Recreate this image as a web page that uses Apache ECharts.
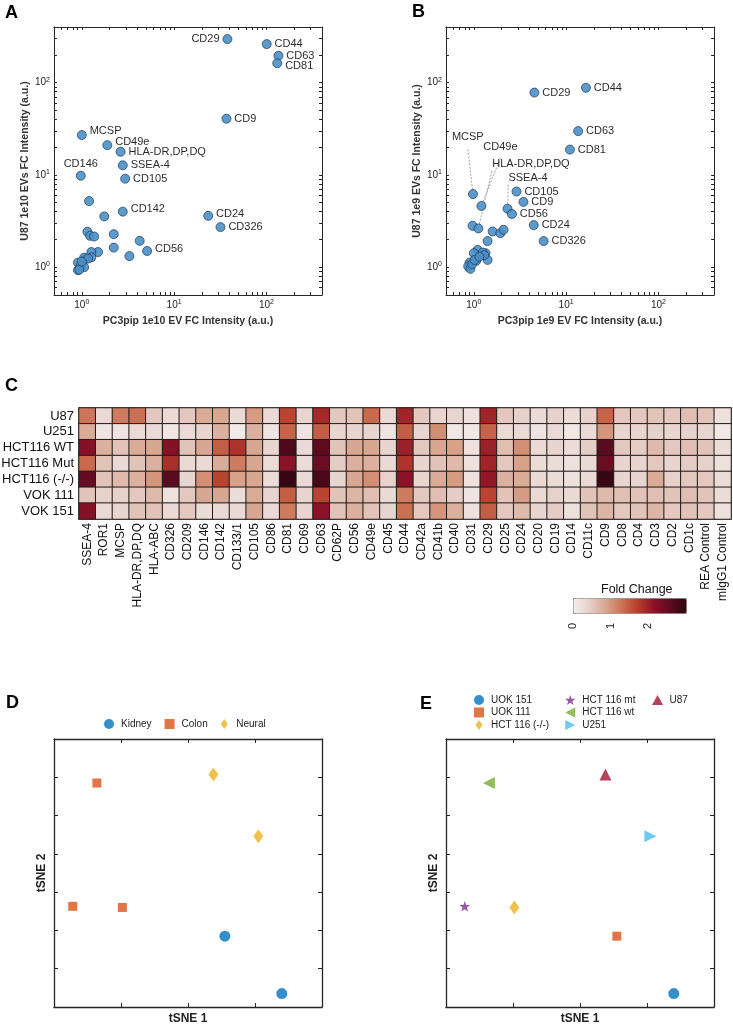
<!DOCTYPE html>
<html>
<head>
<meta charset="utf-8">
<script src="https://cdn.jsdelivr.net/npm/echarts@6.0.0/dist/echarts.min.js"></script>
<style>
html, body { margin: 0; padding: 0; background: #fff; }
#chart { width: 733px; height: 1026px; }
</style>
</head>
<body>
<div id="chart"></div>
<script>
const FONT = '"Liberation Sans", Arial, Helvetica, sans-serif'

// ---- A: PC3pip vs U87, 1e10 EVs ----
const aNames = ['CD29', 'CD44', 'CD63', 'CD81', 'CD9', 'MCSP', 'CD49e', 'HLA-DR,DP,DQ', 'SSEA-4', 'CD146',
  'CD105', '', 'CD142', '', 'CD24', 'CD326', '', '', '', '', '', '', 'CD56', '', '', '', '', '', '', '', '', '', '', '', '', '']
const aX = [37.8, 100.7, 135, 131, 36.9, 1.0, 1.89, 2.63, 2.78, 0.975,
  2.95, 1.2, 2.78, 1.75, 23.4, 31.8, 1.15, 1.23, 1.36, 2.22, 4.24, 2.22, 5.1, 3.28, 1.5, 1.27, 1.27, 1.1, 1.06, 0.91, 0.91, 0.97, 1.06, 0.94, 1.17, 1.0]
const aY = [296, 261, 195, 162, 40.6, 27, 21, 17.8, 12.7, 9.8,
  9.1, 5.2, 4.0, 3.55, 3.6, 2.72, 2.42, 2.19, 2.15, 2.28, 1.93, 1.63, 1.5, 1.32, 1.46, 1.46, 1.28, 1.24, 1.27, 1.12, 0.93, 1.03, 1.0, 0.94, 1.24, 1.15]

// ---- B: PC3pip vs U87, 1e9 EVs ----
const bNames = ['CD29', 'CD44', 'CD63', 'CD81', 'MCSP', 'CD105', 'CD9', 'CD49e', 'SSEA-4', 'CD56',
  'CD24', 'CD326', '', 'HLA-DR,DP,DQ', '', '', '', '', '', '', '', '', '', '', '', '', '', '', '', '', '', '']
const bX = [4.53, 16.4, 13.5, 11, 0.98, 2.9, 3.45, 1.21, 2.32, 2.59,
  4.46, 5.71, 0.97, 1.12, 1.6, 1.94, 2.1, 1.41, 1.41, 1.34, 1.21, 1.1, 1.0, 1.06, 0.9, 0.87, 0.92, 0.96, 1.02, 1.25, 1.3, 1.15]
const bY = [77.9, 88, 29.8, 18.8, 6.2, 6.6, 5.1, 4.6, 4.3, 3.77,
  2.86, 1.92, 2.81, 2.63, 2.44, 2.34, 2.54, 1.92, 1.2, 1.42, 1.38, 1.54, 1.42, 1.17, 1.12, 1.02, 0.96, 1.08, 1.2, 1.44, 1.35, 1.3]

const logTicks = [0.5, 0.6, 0.7, 0.8, 0.9, 1, 2, 3, 4, 5, 6, 7, 8, 9, 10, 20, 30, 40, 50, 60, 70, 80, 90, 100, 200, 300, 400]
const logLabels = [1, 10, 100]

// ---- C: fold change heatmap ----
const markers = ['SSEA-4', 'ROR1', 'MCSP', 'HLA-DR,DP,DQ', 'HLA-ABC', 'CD326', 'CD209', 'CD146', 'CD142', 'CD133/1',
  'CD105', 'CD86', 'CD81', 'CD69', 'CD63', 'CD62P', 'CD56', 'CD49e', 'CD45', 'CD44', 'CD42a', 'CD41b', 'CD40',
  'CD31', 'CD29', 'CD25', 'CD24', 'CD20', 'CD19', 'CD14', 'CD11c', 'CD9', 'CD8', 'CD4', 'CD3', 'CD2', 'CD1c',
  'REA Control', 'mIgG1 Control']
const cellLines = ['U87', 'U251', 'HCT116 WT', 'HCT116 Mut', 'HCT116 (-/-)', 'VOK 111', 'VOK 151']
const foldU87 = [1.25, 0.3, 1.2, 1.3, 0.5, 0.3, 0.5, 0.8, 0.85, 0.3, 0.95, 0.3, 1.65, 0.35, 1.9, 0.5, 0.55, 1.35,
  0.3, 1.95, 0.5, 0.35, 0.35, 0.2, 1.95, 0.5, 0.4, 0.3, 0.4, 0.25, 0.4, 1.4, 0.5, 0.5, 0.55, 0.5, 0.6, 0.55, 0.2]
const foldU251 = [0.8, 0.15, 0.15, 0.3, 0.3, 0.12, 0.3, 0.35, 0.75, 0.08, 0.75, 0.15, 1.4, 0.15, 1.45, 0.35, 0.35, 0.35,
  0.15, 1.45, 0.35, 1.05, 0.1, 0.1, 1.4, 0.3, 0.3, 0.15, 0.3, 0.1, 0.3, 1.0, 0.35, 0.35, 0.4, 0.35, 0.4, 0.35, 0.1]
const foldWT = [2.2, 0.75, 0.55, 0.8, 0.85, 2.2, 0.55, 0.85, 1.45, 1.8, 0.85, 0.35, 2.7, 0.3, 2.55, 0.55, 0.85, 0.85,
  0.35, 2.0, 0.5, 0.85, 0.9, 0.2, 2.0, 0.6, 1.05, 0.3, 0.35, 0.25, 0.45, 2.6, 0.5, 0.45, 0.65, 0.5, 0.6, 0.55, 0.25]
const foldMut = [1.35, 0.55, 0.3, 0.55, 0.75, 1.85, 0.3, 0.3, 0.8, 1.2, 0.85, 0.25, 2.15, 0.25, 2.45, 0.45, 0.75, 0.75,
  0.3, 1.8, 0.35, 0.55, 0.65, 0.2, 1.95, 0.5, 0.9, 0.25, 0.25, 0.2, 0.3, 2.45, 0.35, 0.35, 0.5, 0.35, 0.45, 0.4, 0.2]
const foldKO = [2.5, 0.55, 0.65, 0.75, 1.0, 2.6, 0.35, 1.05, 1.65, 0.9, 0.85, 0.25, 2.9, 0.3, 2.75, 0.35, 0.85, 1.05,
  0.4, 2.15, 0.35, 0.8, 0.95, 0.2, 2.1, 0.75, 0.8, 0.3, 0.25, 0.2, 0.3, 2.9, 0.35, 0.35, 0.8, 0.4, 0.5, 0.5, 0.25]
const foldVOK111 = [0.55, 0.4, 0.4, 0.5, 0.65, 0.2, 0.5, 0.85, 0.85, 0.25, 0.8, 0.35, 1.45, 0.35, 1.65, 0.55, 0.7, 0.6,
  0.3, 1.2, 0.5, 0.6, 0.45, 0.15, 1.65, 0.55, 0.95, 0.3, 0.4, 0.3, 0.55, 0.65, 0.6, 0.55, 0.6, 0.55, 0.6, 0.55, 0.25]
const foldVOK151 = [2.2, 0.3, 0.35, 0.55, 0.55, 0.3, 0.5, 0.25, 0.3, 0.3, 0.85, 0.3, 1.2, 0.35, 2.15, 0.55, 0.75, 0.55,
  0.35, 1.3, 0.5, 1.0, 0.75, 0.2, 1.45, 0.5, 0.65, 0.35, 0.45, 0.2, 0.55, 0.7, 0.5, 0.55, 0.7, 0.5, 0.55, 0.5, 0.2]

// ---- D / E: tSNE embedding ----
const tsneLines = ['UOK 151', 'UOK 111', 'HCT 116 (-/-)', 'HCT 116 mt', 'HCT 116 wt', 'U251', 'U87']
const tsneX = [3.40, 2.55, 1.02, 0.28, 0.64, 3.05, 2.38]
const tsneY = [0.35, 1.85, 2.60, 2.63, 5.85, 4.46, 6.07]
const tsneTissue = ['Kidney', 'Kidney', 'Colon', 'Colon', 'Colon', 'Neural', 'Neural']
const tissues = ['Kidney', 'Colon', 'Neural']

// styles
const HEAT_COLORS = ['#f4efef', '#e6cfc8', '#d8a690', '#cb7254', '#b73c2c', '#8c1228', '#5c0b20', '#2e060f']
const STAR = 'path://M0,-10L2.35,-3.24L9.51,-3.09L3.8,1.24L5.88,8.09L0,4L-5.88,8.09L-3.8,1.24L-9.51,-3.09L-2.35,-3.24Z'
const SQUARE_ICON = 'path://M0,0L10,0L10,10L0,10Z'
const DIAMOND_ICON = 'path://M5,0L10,7L5,14L0,7Z'
const LEFT_ICON = 'path://M0,5L10,0L10,10Z'
const RIGHT_ICON = 'path://M0,0L10,5L0,10Z'
const UP_ICON = 'path://M5,0L10,9L0,9Z'
const TISSUE_STYLE = {
  Kidney: { symbol: 'circle', size: 11, color: '#0072BD', icon: 'circle' },
  Colon: { symbol: 'rect', size: 9, color: '#D95319', icon: SQUARE_ICON },
  Neural: { symbol: 'diamond', size: [10, 14], color: '#EDB120', icon: DIAMOND_ICON }
}
const LINE_STYLE = {
  'UOK 151': { symbol: 'circle', size: 11, rotate: 0, color: '#0072BD', icon: 'circle' },
  'UOK 111': { symbol: 'rect', size: 9, rotate: 0, color: '#D95319', icon: SQUARE_ICON },
  'HCT 116 (-/-)': { symbol: 'diamond', size: [10, 14], rotate: 0, color: '#EDB120', icon: DIAMOND_ICON },
  'HCT 116 mt': { symbol: STAR, size: 11, rotate: 0, color: '#7E2F8E', icon: STAR },
  'HCT 116 wt': { symbol: 'triangle', size: 12, rotate: 90, color: '#77AC30', icon: LEFT_ICON },
  'U251': { symbol: 'triangle', size: 12, rotate: -90, color: '#4DBEEE', icon: RIGHT_ICON },
  'U87': { symbol: 'triangle', size: 12, rotate: 0, color: '#A2142F', icon: UP_ICON }
}
// label placement: [position, dx, dy]
const PLACE_A = {
  'CD29': ['left', 0, 0],
  'CD146': ['top', 0, 2],
  'MCSP': ['right', 0, -4],
  'CD49e': ['right', 0, -3],
  'CD142': ['right', 0, -3],
  'CD24': ['right', 0, -2],
  'CD56': ['right', 0, -2],
  'CD81': ['right', 0, 3]
}
const PLACE_B = {}
const LEADER_B = {
  'MCSP': [-29, -57],
  'CD49e': [-6, -59],
  'HLA-DR,DP,DQ': [6, -64],
  'SSEA-4': [-7, -31]
}

function scatterData(names, xs, ys, place, leaders) {
  return names.map((n, i) => {
    const p = place[n] || ['right', 0, 0]
    const item = { name: n, value: [xs[i], ys[i]], label: { position: p[0], offset: [p[1], p[2]] } }
    if (leaders[n]) {
      item.label.offset = leaders[n]
      item.labelLine = { show: true }
    }
    return item
  })
}

function powLabel(v) {
  return '{b|10}{s|' + Math.round(Math.log10(v)) + '}'
}

const BOX = { color: '#262626', width: 1 }

function logAxis(grid, position, main, name) {
  return {
    type: 'log',
    logBase: 10,
    gridIndex: grid,
    position,
    min: 0.5,
    max: 400,
    axisLine: { show: true, onZero: false, lineStyle: BOX },
    axisTick: { show: true, inside: true, length: 3, customValues: logTicks, lineStyle: { color: '#262626' }},
    axisLabel: {
      show: main,
      customValues: logLabels,
      margin: 4,
      formatter: powLabel,
      rich: {
        b: { fontSize: 10, fontFamily: FONT, color: '#222', lineHeight: 13 },
        s: { fontSize: 7, fontFamily: FONT, color: '#222', lineHeight: 8, verticalAlign: 'top' }
      }
    },
    splitLine: { show: false },
    name: main ? name : '',
    nameLocation: 'middle',
    nameGap: position === 'bottom' ? 21 : 20,
    nameTextStyle: { fontFamily: FONT, fontSize: 10.5, fontWeight: 'bold', color: '#333' }
  }
}

function tsneAxis(grid, position, max, main, name) {
  return {
    type: 'value',
    gridIndex: grid,
    position,
    min: 0,
    max,
    interval: 1,
    axisLine: { show: true, onZero: false, lineStyle: { color: '#262626', width: 1.3 }},
    axisTick: { show: true, inside: true, length: 4, lineStyle: { color: '#262626' }},
    axisLabel: { show: false },
    splitLine: { show: false },
    name: main ? name : '',
    nameLocation: 'middle',
    nameGap: 6,
    nameTextStyle: { fontFamily: FONT, fontSize: 12, fontWeight: 'bold', color: '#222' }
  }
}

function legendItems(names, styles) {
  return names.map((n) => ({ name: n, icon: styles[n].icon }))
}

const heatData = []
const foldRows = [foldU87, foldU251, foldWT, foldMut, foldKO, foldVOK111, foldVOK151]
foldRows.forEach((row, r) => row.forEach((v, c) => heatData.push([c, r, v])))

const letterStyle = { fontFamily: FONT, fontSize: 18, fontWeight: 'bold', color: '#000' }
const legendText = { fontFamily: FONT, fontSize: 10, color: '#222' }

const chart = echarts.init(document.getElementById('chart'), null, { renderer: 'canvas' })

const option = {
  animation: false,
  backgroundColor: '#fff',
  textStyle: { fontFamily: FONT },
  title: [
    { text: 'A', left: 5, top: 4, padding: 0, textStyle: letterStyle },
    { text: 'B', left: 412, top: 3, padding: 0, textStyle: letterStyle },
    { text: 'C', left: 5, top: 377, padding: 0, textStyle: letterStyle },
    { text: 'D', left: 6, top: 694, padding: 0, textStyle: letterStyle },
    { text: 'E', left: 420, top: 695, padding: 0, textStyle: letterStyle },
    { text: 'Fold Change', left: 601, top: 583, padding: 0,
      textStyle: { fontFamily: FONT, fontSize: 12.5, fontWeight: 'normal', color: '#111' }}
  ],
  grid: [
    { left: 54, top: 27, width: 268, height: 268, outerBoundsMode: 'none' },
    { left: 446, top: 27, width: 268, height: 268, outerBoundsMode: 'none' },
    { left: 79, top: 408, width: 652, height: 111, outerBoundsMode: 'none',
      show: true, borderColor: '#8a8a8a', borderWidth: 2, backgroundColor: 'transparent' },
    { left: 573, top: 598, width: 113, height: 15, outerBoundsMode: 'none' },
    { left: 54, top: 739, width: 268, height: 268, outerBoundsMode: 'none' },
    { left: 446, top: 739, width: 268, height: 268, outerBoundsMode: 'none' }
  ],
  xAxis: [
    logAxis(0, 'bottom', true, 'PC3pip 1e10 EV FC Intensity (a.u.)'),
    logAxis(0, 'top', false, ''),
    logAxis(1, 'bottom', true, 'PC3pip 1e9 EV FC Intensity (a.u.)'),
    logAxis(1, 'top', false, ''),
    {
      type: 'category',
      gridIndex: 2,
      data: markers,
      axisLine: { show: false },
      axisTick: { show: false },
      axisLabel: { interval: 0, rotate: 90, margin: 4, fontSize: 12, fontFamily: FONT, color: '#111' },
      splitLine: { show: false }
    },
    {
      type: 'value',
      gridIndex: 3,
      min: 0,
      max: 3,
      interval: 1,
      axisLine: { show: false },
      axisTick: { show: false },
      axisLabel: { rotate: 90, margin: 10, fontSize: 11, fontFamily: FONT, color: '#222', showMaxLabel: false },
      splitLine: { show: false }
    },
    tsneAxis(4, 'bottom', 4, true, 'tSNE 1'),
    tsneAxis(4, 'top', 4, false, ''),
    tsneAxis(5, 'bottom', 4, true, 'tSNE 1'),
    tsneAxis(5, 'top', 4, false, '')
  ],
  yAxis: [
    logAxis(0, 'left', true, 'U87 1e10 EVs FC Intensity (a.u.)'),
    logAxis(0, 'right', false, ''),
    logAxis(1, 'left', true, 'U87 1e9 EVs FC Intensity (a.u.)'),
    logAxis(1, 'right', false, ''),
    {
      type: 'category',
      gridIndex: 2,
      data: cellLines,
      inverse: true,
      axisLine: { show: false },
      axisTick: { show: false },
      axisLabel: { interval: 0, margin: 5, fontSize: 13, fontFamily: FONT, color: '#111' },
      splitLine: { show: false }
    },
    { type: 'value', gridIndex: 3, min: 0, max: 1, show: false },
    tsneAxis(4, 'left', 7, true, 'tSNE 2'),
    tsneAxis(4, 'right', 7, false, ''),
    tsneAxis(5, 'left', 7, true, 'tSNE 2'),
    tsneAxis(5, 'right', 7, false, '')
  ],
  visualMap: {
    type: 'continuous',
    min: 0,
    max: 3,
    seriesIndex: 2,
    orient: 'horizontal',
    left: 573,
    top: 598,
    itemWidth: 15,
    itemHeight: 113,
    calculable: false,
    hoverLink: false,
    padding: 0,
    borderColor: '#8c8c8c',
    borderWidth: 1,
    text: null,
    inRange: { color: HEAT_COLORS }
  },
  legend: [
    {
      data: legendItems(tissues, TISSUE_STYLE), left: 104, top: 719, orient: 'horizontal', padding: 0,
      itemWidth: 14, itemHeight: 10, itemGap: 13, selectedMode: false, textStyle: legendText
    },
    {
      data: legendItems(tsneLines.slice(0, 3), LINE_STYLE), left: 474, top: 695, orient: 'vertical', padding: 0,
      itemWidth: 14, itemHeight: 10, itemGap: 2.5, selectedMode: false, textStyle: legendText
    },
    {
      data: legendItems(tsneLines.slice(3, 6), LINE_STYLE), left: 565, top: 695, orient: 'vertical', padding: 0,
      itemWidth: 14, itemHeight: 10, itemGap: 2.5, selectedMode: false, textStyle: legendText
    },
    {
      data: legendItems(tsneLines.slice(6), LINE_STYLE), left: 652, top: 695, orient: 'vertical', padding: 0,
      itemWidth: 14, itemHeight: 10, itemGap: 2.5, selectedMode: false, textStyle: legendText
    }
  ],
  series: [
    {
      type: 'scatter',
      name: 'U87 vs PC3pip 1e10',
      xAxisIndex: 0,
      yAxisIndex: 0,
      symbolSize: 9,
      itemStyle: { color: '#4a90c8', borderColor: '#1f3b57', borderWidth: 0.8, opacity: 0.9 },
      label: { show: true, formatter: '{b}', distance: 3, fontSize: 11, fontFamily: FONT, color: '#111' },
      emphasis: { disabled: true },
      data: scatterData(aNames, aX, aY, PLACE_A, {})
    },
    {
      type: 'scatter',
      name: 'U87 vs PC3pip 1e9',
      xAxisIndex: 2,
      yAxisIndex: 2,
      symbolSize: 9,
      itemStyle: { color: '#4a90c8', borderColor: '#1f3b57', borderWidth: 0.8, opacity: 0.9 },
      label: { show: true, formatter: '{b}', distance: 3, fontSize: 11, fontFamily: FONT, color: '#111' },
      labelLine: { show: false, lineStyle: { color: '#8a8a8a', width: 0.8, type: [2, 1.5] }},
      emphasis: { disabled: true },
      data: scatterData(bNames, bX, bY, PLACE_B, LEADER_B)
    },
    {
      type: 'heatmap',
      name: 'Fold Change',
      xAxisIndex: 4,
      yAxisIndex: 4,
      itemStyle: { borderColor: '#1c1c1c', borderWidth: 1 },
      emphasis: { disabled: true },
      data: heatData
    }
  ].concat(tissues.map((t) => ({
    type: 'scatter',
    name: t,
    xAxisIndex: 6,
    yAxisIndex: 6,
    symbol: TISSUE_STYLE[t].symbol,
    symbolSize: TISSUE_STYLE[t].size,
    itemStyle: { color: TISSUE_STYLE[t].color },
    emphasis: { disabled: true },
    data: tsneLines.map((l, i) => (tsneTissue[i] === t ? [tsneX[i], tsneY[i]] : null)).filter((d) => d)
  }))).concat(tsneLines.map((l, i) => ({
    type: 'scatter',
    name: l,
    xAxisIndex: 8,
    yAxisIndex: 8,
    symbol: LINE_STYLE[l].symbol,
    symbolSize: LINE_STYLE[l].size,
    symbolRotate: LINE_STYLE[l].rotate,
    symbolKeepAspect: true,
    itemStyle: { color: LINE_STYLE[l].color },
    emphasis: { disabled: true },
    data: [[tsneX[i], tsneY[i]]]
  })))
}

chart.setOption(option)
</script>
</body>
</html>
